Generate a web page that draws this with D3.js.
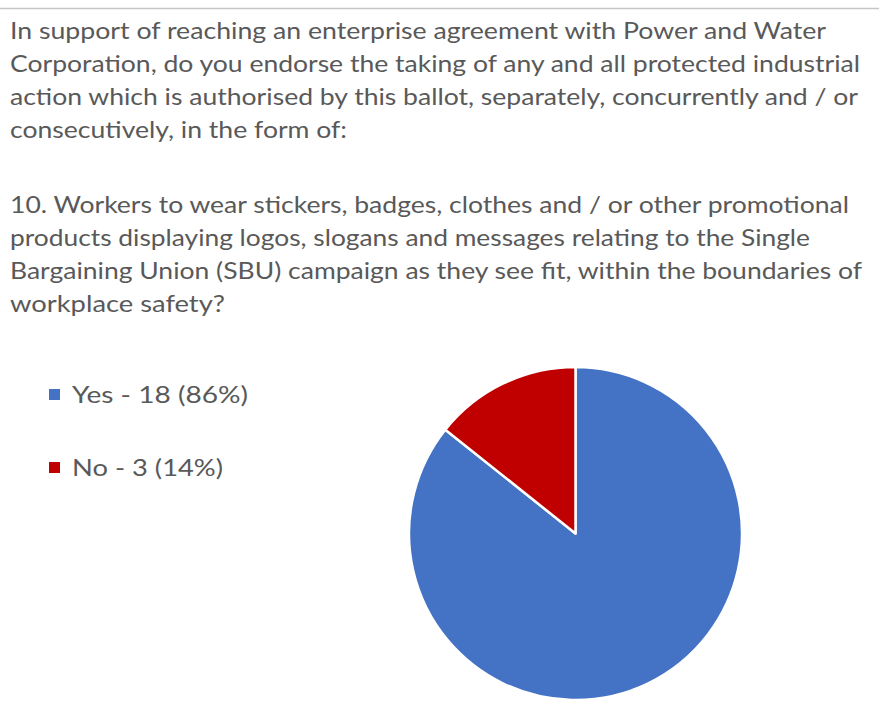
<!DOCTYPE html>
<html>
<head>
<meta charset="utf-8">
<script src="https://cdn.jsdelivr.net/npm/d3@7/dist/d3.min.js"></script>
<style>
  html, body { margin: 0; padding: 0; background: #ffffff; }
  svg { display: block; }
</style>
</head>
<body>
<script>
// ---- data ----
const categories = ["Yes", "No"];
const counts = [18, 3];
const colors = ["#4472C4", "#C00000"];
const questionLines = [
  "In support of reaching an enterprise agreement with Power and Water",
  "Corporation, do you endorse the taking of any and all protected industrial",
  "action which is authorised by this ballot, separately, concurrently and / or",
  "consecutively, in the form of:"
];
const itemLines = [
  "10. Workers to wear stickers, badges, clothes and / or other promotional",
  "products displaying logos, slogans and messages relating to the Single",
  "Bargaining Union (SBU) campaign as they see fit, within the boundaries of",
  "workplace safety?"
];
// measured right edges of each text line (layout)
const questionEnds = [826, 860, 858, 347];
const itemEnds = [849, 810, 862, 225];

const W = 879, H = 708;
const svg = d3.select("body").append("svg").attr("width", W).attr("height", H);

svg.append("rect").attr("width", W).attr("height", H).attr("fill", "#ffffff");
svg.append("line").attr("x1", 0).attr("x2", W).attr("y1", 8.5).attr("y2", 8.5)
  .attr("stroke", "#c6c6c6").attr("stroke-width", 1.5);

const font = "Lato, 'Open Sans', sans-serif";
const textColor = "#595959";
const fs = 23;

function drawLines(lines, ends, y0) {
  lines.forEach((t, i) => {
    svg.append("text")
      .attr("x", 10)
      .attr("y", y0 + i * 33)
      .attr("font-family", font)
      .attr("font-size", fs)
      .attr("fill", textColor)
      .attr("textLength", ends[i] - 10)
      .attr("lengthAdjust", "spacingAndGlyphs")
      .text(t);
  });
}
drawLines(questionLines, questionEnds, 39);
drawLines(itemLines, itemEnds, 213);

// ---- pie ----
const total = d3.sum(counts);
const pie = d3.pie().sort(null).value(d => d)(counts);
const cx = 575.5, cy = 533.5, r = 166.5;
const arc = d3.arc().innerRadius(0).outerRadius(r);
const g = svg.append("g").attr("transform", `translate(${cx},${cy})`);
g.selectAll("path").data(pie).join("path")
  .attr("d", arc)
  .attr("fill", (d, i) => colors[i])
  .attr("stroke", "#ffffff")
  .attr("stroke-width", 2.5)
  .attr("stroke-linejoin", "round");

// ---- legend ----
const legend = svg.append("g");
const legendY = [395, 468];
const legendEnds = [248, 223];
categories.forEach((c, i) => {
  const pct = Math.round(counts[i] / total * 100);
  legend.append("rect")
    .attr("x", 49).attr("y", legendY[i] - 6)
    .attr("width", 11).attr("height", 11)
    .attr("fill", colors[i]);
  legend.append("text")
    .attr("x", 72).attr("y", legendY[i] + 8)
    .attr("font-family", font)
    .attr("font-size", fs)
    .attr("fill", textColor)
    .attr("textLength", legendEnds[i] - 72)
    .attr("lengthAdjust", "spacingAndGlyphs")
    .text(`${c} - ${counts[i]} (${pct}%)`);
});
</script>
</body>
</html>
